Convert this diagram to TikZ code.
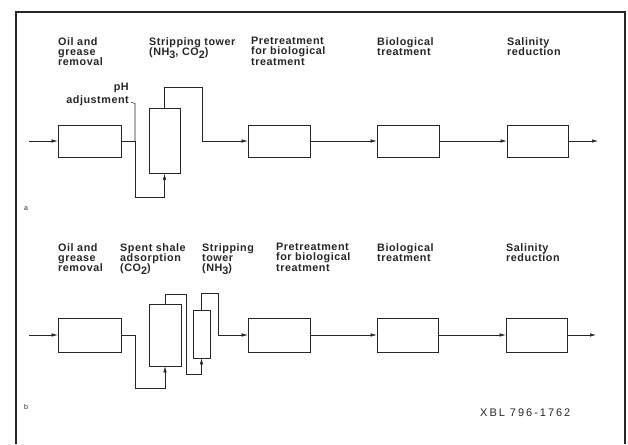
\documentclass[tikz,border=0pt]{standalone}
\usepackage{fontspec}
\usepackage{tikz}
\usetikzlibrary{arrows.meta, positioning, calc}
\newfontfamily\lblfont[LetterSpace=5]{Liberation Sans}
\newfontfamily\tagfont[LetterSpace=18]{Liberation Sans}
\newcommand{\chsub}[1]{\raisebox{-0.55ex}{#1}}
\tikzset{
  unit/.style={draw, line width=0.6pt, inner sep=0pt},
  flow/.style={line width=0.55pt, -{Latex[length=6pt, width=3.4pt]}},
  pipe/.style={line width=0.55pt},
  lbl/.style={font=\lblfont\bfseries\fontsize{10.8}{10.3}\selectfont, align=left, anchor=north west, inner sep=0pt},
}

\begin{document}
\begin{tikzpicture}[x=1pt, y=-1pt, black!85]
    \useasboundingbox (0,0) rectangle (628,444);
    % frame
    \draw[line width=1.2pt] (16,444) -- (16,12) -- (625,12) -- (625,444);
    \draw[pipe, double, double distance=1.2pt] (20,221) -- (598,221);

    % (a) process units
    \node[unit, minimum width=63pt, minimum height=32pt] (oilA) at (89.5,141) {};
    \node[unit, minimum width=31pt, minimum height=65pt] (towA) at (164.5,141) {};
    \node[unit, minimum width=62pt, minimum height=32pt] (preA) at (279,141) {};
    \node[unit, minimum width=62pt, minimum height=32pt] (bioA) at (408,141) {};
    \node[unit, minimum width=61pt, minimum height=32pt] (salA) at (537.5,141) {};
    \coordinate (inA) at (29,141);
    \coordinate (outA) at (598,141);
    \coordinate (phA) at (135,141);
    % (a) labels
    \node[lbl] (tOilA) at (58,37) {Oil and\\grease\\removal};
    \node[lbl] (tTowA) at (149,37) {Stripping tower\\(NH\chsub{3}, CO\chsub{2})};
    \node[lbl] (tPreA) at (251,37) {Pretreatment\\for biological\\treatment};
    \node[lbl] (tBioA) at (377,37) {Biological\\treatment};
    \node[lbl] (tSalA) at (507,37) {Salinity\\reduction};
    \node[lbl, align=right, anchor=north east] (tPhA) at (129,83) {pH\\[3pt]adjustment};
    % (a) flow lines
    \draw[flow] (inA) -- (oilA.west);
    \draw[flow] (oilA.east) -| (135,197) -| (towA.south);
    \draw[pipe] ([shift={(2,-4)}]tPhA.south east) -- ++(4,1) -- (phA);
    \draw[flow] (towA.north) |- (202,87) |- (preA.west);
    \draw[flow] (preA) -- (bioA);
    \draw[flow] (bioA) -- (salA);
    \draw[flow] (salA) -- (outA);
    \node[font=\lblfont\fontsize{7}{8}\selectfont] (capA) at (26,209) {a};

    % (b) process units
    \node[unit, minimum width=63pt, minimum height=34pt] (oilB) at (89.5,335) {};
    \node[unit, minimum width=32pt, minimum height=62pt] (tw1B) at (165,335) {};
    \node[unit, minimum width=17pt, minimum height=48pt] (tw2B) at (201.5,334) {};
    \node[unit, minimum width=62pt, minimum height=34pt] (preB) at (279,335) {};
    \node[unit, minimum width=61pt, minimum height=34pt] (bioB) at (407.5,335) {};
    \node[unit, minimum width=61pt, minimum height=34pt] (salB) at (536.5,335) {};
    \coordinate (inB) at (29,335);
    \coordinate (outB) at (596,335);
    % (b) labels
    \node[lbl] (tOilB) at (58,243) {Oil and\\grease\\removal};
    \node[lbl] (tShaB) at (120,243) {Spent shale\\adsorption\\(CO\chsub{2})};
    \node[lbl] (tTowB) at (202,243) {Stripping\\tower\\(NH\chsub{3})};
    \node[lbl] (tPreB) at (276,243) {Pretreatment\\for biological\\treatment};
    \node[lbl] (tBioB) at (377,243) {Biological\\treatment};
    \node[lbl] (tSalB) at (506,243) {Salinity\\reduction};
    % (b) flow lines
    \draw[flow] (inB) -- (oilB.west);
    \draw[flow] (oilB.east) -| (135,388) -| (tw1B.south);
    \draw[flow] (tw1B.north) |- (186,294) -- (186,374) -| (tw2B.south);
    \draw[flow] (tw2B.north) |- (218,293) |- (preB.west);
    \draw[flow] (preB) -- (bioB);
    \draw[flow] (bioB) -- (salB);
    \draw[flow] (salB) -- (outB);
    \node[font=\lblfont\fontsize{7}{8}\selectfont] (capB) at (26,407) {b};
    \node[font=\tagfont\fontsize{11}{12}\selectfont, anchor=west, inner sep=0pt] (xbl) at (480,413) {XBL 796-1762};
\end{tikzpicture}
\end{document}
